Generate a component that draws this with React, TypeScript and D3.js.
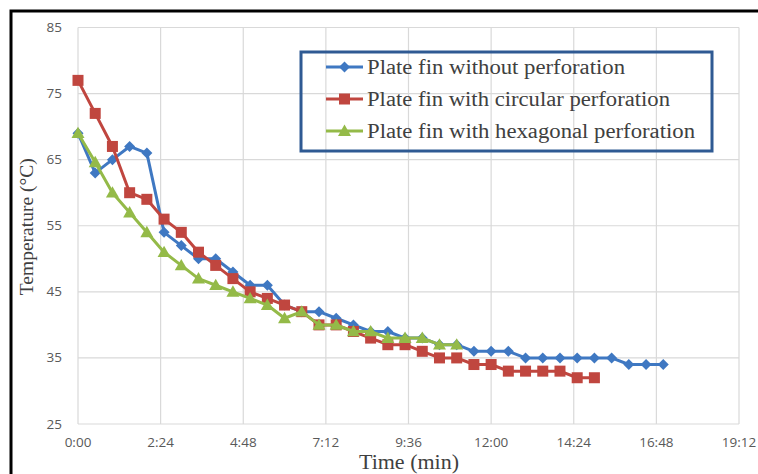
import React from "react";
import * as d3 from "d3";

const times = [0, 30, 60, 90, 120, 150, 180, 210, 240, 270, 300, 330, 360, 390, 420, 450, 480, 510, 540, 570, 600, 630, 660, 690, 720, 750, 780, 810, 840, 870, 900, 930, 960, 990, 1020];
const plainFin = [69, 63, 65, 67, 66, 54, 52, 50, 50, 48, 46, 46, 43, 42, 42, 41, 40, 39, 39, 38, 38, 37, 37, 36, 36, 36, 35, 35, 35, 35, 35, 35, 34, 34, 34];
const circularFin = [77, 72, 67, 60, 59, 56, 54, 51, 49, 47, 45, 44, 43, 42, 40, 40, 39, 38, 37, 37, 36, 35, 35, 34, 34, 33, 33, 33, 33, 32, 32];
const hexFin = [69, 64.6, 60, 57, 54, 51, 49, 47, 46, 45, 44, 43, 41, 42, 40, 40, 39, 39, 38, 38, 38, 37, 37];
const seriesNames = ["Plate fin without perforation", "Plate fin with circular perforation", "Plate fin with hexagonal perforation"];
const xTicks = [0, 144, 288, 432, 576, 720, 864, 1008, 1152];
const yTicks = [25, 35, 45, 55, 65, 75, 85];

const colors = ["#3F78C2", "#C0463F", "#94BA48"];
const legendWidths = [258, 303, 328];

function fmt(s: number) {
  const m = Math.floor(s / 60);
  const sec = s % 60;
  return `${m}:${sec < 10 ? "0" : ""}${sec}`;
}

function Marker({ kind, x, y, color }: { kind: number; x: number; y: number; color: string }) {
  if (kind === 0) {
    const r = 5.5;
    return <path d={`M${x},${y - r}L${x + r},${y}L${x},${y + r}L${x - r},${y}Z`} fill={color} />;
  }
  if (kind === 1) {
    const h = 5.5;
    return <rect x={x - h} y={y - h} width={2 * h} height={2 * h} fill={color} />;
  }
  const s = 6.5;
  return <path d={`M${x},${y - s}L${x + s},${y + s * 0.75}L${x - s},${y + s * 0.75}Z`} fill={color} />;
}

export default function App() {
  const W = 758, H = 474;
  const left = 78, right = 739, top = 27.5, bottom = 424;
  const x = d3.scaleLinear().domain([0, 1152]).range([left, right]);
  const y = d3.scaleLinear().domain([25, 85]).range([bottom, top]);
  const all = [plainFin, circularFin, hexFin];
  const line = d3.line<number>().x((_, i) => x(times[i])).y((d) => y(d));

  return (
    <svg width={W} height={H} style={{ position: "absolute", left: 0, top: 0, background: "#fff" }}>
      <rect x={0} y={0} width={W} height={H} fill="#fff" />
      <rect x={11} y={11} width={W + 10} height={H + 10} fill="none" stroke="#000" strokeWidth={3} />
      {yTicks.map((t) => (
        <line key={"gy" + t} x1={left} x2={right} y1={y(t)} y2={y(t)} stroke="#D9D9D9" strokeWidth={1.2} />
      ))}
      {xTicks.map((t) => (
        <line key={"gx" + t} x1={x(t)} x2={x(t)} y1={top} y2={bottom} stroke="#D9D9D9" strokeWidth={1.2} />
      ))}
      {yTicks.map((t) => (
        <text key={"ty" + t} x={62} y={y(t) + 4.5} textAnchor="end" fontFamily="'Open Sans', sans-serif" fontSize={13.5} fill="#595959">
          {t}
        </text>
      ))}
      {xTicks.map((t) => (
        <text key={"tx" + t} x={x(t)} y={446.5} textAnchor="middle" fontFamily="'Open Sans', sans-serif" fontSize={13.5} fill="#595959">
          {fmt(t)}
        </text>
      ))}
      <text x={409} y={469} textAnchor="middle" fontFamily="'Liberation Serif', serif" fontSize={22} fill="#404040">
        Time (min)
      </text>
      <text transform={`translate(33,${(top + bottom) / 2 + 1}) rotate(-90)`} textAnchor="middle" fontFamily="'Liberation Serif', serif" fontSize={19.5} fill="#404040">
        Temperature (°C)
      </text>
      {all.map((vals, k) => (
        <g key={"s" + k}>
          <path d={line(vals) || ""} fill="none" stroke={colors[k]} strokeWidth={3} strokeLinejoin="round" />
          {vals.map((v, i) => (
            <Marker key={i} kind={k} x={x(times[i])} y={y(v)} color={colors[k]} />
          ))}
        </g>
      ))}
      <rect x={301} y={52} width={411} height={99} fill="none" stroke="#2F5A93" strokeWidth={3} />
      {seriesNames.map((n, k) => {
        const ly = 67 + k * 32;
        return (
          <g key={"l" + k}>
            <line x1={326} x2={363} y1={ly} y2={ly} stroke={colors[k]} strokeWidth={3} />
            <Marker kind={k} x={344.5} y={ly} color={colors[k]} />
            <text x={367} y={ly + 6.5} fontFamily="'Liberation Serif', serif" fontSize={20} fill="#404040" textLength={legendWidths[k]} lengthAdjust="spacingAndGlyphs">
              {n}
            </text>
          </g>
        );
      })}
    </svg>
  );
}
